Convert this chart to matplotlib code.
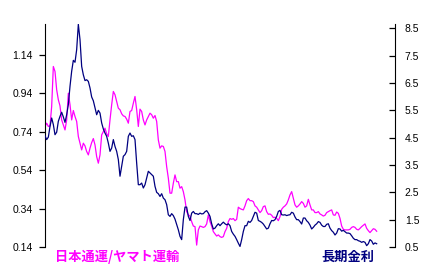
import numpy as np
import matplotlib
matplotlib.use("Agg")
import matplotlib.pyplot as plt

plt.rcParams['font.family'] = ['Liberation Sans', 'DejaVu Sans']

# ratio: Nippon Express / Yamato Transport (left axis)
ratio = [
    0.767, 0.784, 0.767, 0.770, 0.871, 1.079, 1.053, 0.958, 0.906, 0.874,
    0.801, 0.775, 0.749, 0.801, 0.940, 0.880, 0.801, 0.850, 0.819, 0.793,
    0.715, 0.680, 0.645, 0.680, 0.666, 0.637, 0.619, 0.654, 0.683, 0.704,
    0.671, 0.610, 0.576, 0.619, 0.723, 0.741, 0.758, 0.729, 0.715, 0.801,
    0.880, 0.949, 0.932,
    0.897, 0.862, 0.854, 0.833, 0.822, 0.819, 0.805, 0.784, 0.845, 0.850,
    0.888, 0.923, 0.854, 0.767, 0.857, 0.845, 0.801, 0.775, 0.801, 0.819,
    0.836, 0.828, 0.810, 0.824, 0.793, 0.697, 0.654, 0.666, 0.663, 0.637,
    0.558, 0.498, 0.420, 0.420, 0.472, 0.515, 0.480, 0.480, 0.446, 0.454,
    0.428, 0.385,
    0.324, 0.307, 0.301, 0.272, 0.249, 0.246, 0.150, 0.229, 0.249, 0.246,
    0.242, 0.246, 0.260, 0.307, 0.272, 0.249, 0.220, 0.208, 0.197, 0.203,
    0.194, 0.190, 0.194, 0.220, 0.237, 0.272, 0.288, 0.284, 0.288, 0.277,
    0.284, 0.347, 0.340, 0.336, 0.333, 0.354, 0.381, 0.392, 0.381, 0.381,
    0.376, 0.354,
    0.347, 0.333, 0.319, 0.329, 0.350, 0.354, 0.324, 0.310, 0.312, 0.305,
    0.293, 0.295, 0.289, 0.277, 0.298, 0.336, 0.347, 0.354, 0.364, 0.385,
    0.411, 0.428, 0.393, 0.359, 0.347, 0.354, 0.364, 0.376, 0.367, 0.347,
    0.354, 0.388, 0.359, 0.333, 0.333, 0.319, 0.319, 0.324, 0.312, 0.307,
    0.301, 0.305,
    0.319, 0.324, 0.329, 0.333, 0.307, 0.305, 0.322, 0.315, 0.289, 0.249,
    0.232, 0.229, 0.229, 0.229, 0.232, 0.242, 0.246, 0.242, 0.232, 0.229,
    0.237, 0.246, 0.253, 0.260, 0.237, 0.225, 0.215, 0.225, 0.235, 0.232,
    0.222,
]

# long-term interest rate, % (right axis)
rate = [
    4.57, 4.43, 4.52, 4.91, 5.22, 4.98, 4.61, 4.70, 5.10, 5.28,
    5.43, 5.26, 5.06, 5.34, 5.71, 6.38, 6.93, 7.33, 7.26, 7.72,
    8.65, 8.09, 7.11, 6.80, 6.59, 6.62, 6.56, 6.32, 5.99, 5.85,
    5.59, 5.34, 5.50, 5.40, 5.04, 4.82, 4.67, 4.55, 4.30, 4.00,
    4.12, 4.43, 4.18,
    4.00, 3.70, 3.09, 3.45, 3.82, 3.88, 4.00, 4.55, 4.67, 4.55,
    4.57, 4.43, 3.57, 2.78, 2.78, 2.84, 2.66, 2.78, 3.02, 3.27,
    3.21, 3.15, 3.09, 2.72, 2.50, 2.45, 2.35, 2.45, 2.29, 2.23,
    2.05, 1.68, 1.62, 1.72, 1.65, 1.52, 1.32, 1.13, 0.89, 0.77,
    1.50, 1.96,
    1.96, 1.62, 1.47, 1.74, 1.80, 1.72, 1.72, 1.69, 1.74, 1.71,
    1.72, 1.79, 1.83, 1.74, 1.62, 1.35, 1.16, 1.19, 1.28, 1.35,
    1.28, 1.35, 1.41, 1.35, 1.31, 1.35, 1.28, 1.07, 0.97, 0.89,
    0.77, 0.64, 0.52, 0.77, 1.07, 1.28, 1.28, 1.44, 1.40, 1.47,
    1.62, 1.77,
    1.74, 1.47, 1.44, 1.40, 1.34, 1.25, 1.16, 1.19, 1.35, 1.47,
    1.46, 1.50, 1.62, 1.80, 1.84, 1.68, 1.67, 1.68, 1.65, 1.67,
    1.68, 1.77, 1.74, 1.60, 1.50, 1.50, 1.43, 1.34, 1.56, 1.56,
    1.46, 1.40, 1.30, 1.16, 1.22, 1.30, 1.35, 1.43, 1.40, 1.30,
    1.25, 1.25,
    1.33, 1.35, 1.19, 1.10, 1.04, 0.94, 1.01, 1.17, 1.16, 1.08,
    1.11, 1.06, 1.01, 1.01, 0.99, 0.91, 0.82, 0.77, 0.77, 0.73,
    0.71, 0.67, 0.70, 0.67, 0.55, 0.62, 0.77, 0.72, 0.60, 0.65,
    0.62,
]

months = np.arange(len(ratio))
left_ticks = [0.14, 0.34, 0.54, 0.74, 0.94, 1.14]
right_ticks = [0.5, 1.5, 2.5, 3.5, 4.5, 5.5, 6.5, 7.5, 8.5]

fig = plt.figure(figsize=(4.33, 2.76), dpi=100)
ax = fig.add_axes([45/433, 29/276, 350/433, 223/276])
ax2 = ax.twinx()

ax.plot(months, ratio, color='#FF00FF', lw=0.9)
ax2.plot(months, rate, color='#000080', lw=0.9)

ax.set_xlim(0, 210)
ax.set_ylim(0.14, 1.30)
ax2.set_ylim(0.5, 8.66)

for a in (ax, ax2):
    a.spines['top'].set_visible(False)
    a.spines['bottom'].set_visible(False)
    a.set_xticks([])
ax.spines['right'].set_visible(False)
ax2.spines['left'].set_visible(False)

ax.set_yticks(left_ticks)
ax.set_yticklabels(['%.2f' % t for t in left_ticks])
ax.tick_params(axis='y', direction='out', length=4, width=0.9, labelsize=7.5, pad=5)
ax2.set_yticks(right_ticks)
ax2.set_yticklabels(['%.1f' % t for t in right_ticks])
ax2.tick_params(axis='y', direction='in', length=4, width=0.9, labelsize=7.5, pad=7)

fig.text(55/433, 0.069, '日本通運/ヤマト運輸', color='#FF00FF', fontsize=9.5,
         fontweight='bold', family=['Noto Sans CJK JP', 'DejaVu Sans'], va='center')
fig.text(321/433, 0.069, '長期金利', color='#000080', fontsize=9.5,
         fontweight='bold', family=['Noto Sans CJK JP', 'DejaVu Sans'], va='center')

fig.savefig('out.png', dpi=100)
